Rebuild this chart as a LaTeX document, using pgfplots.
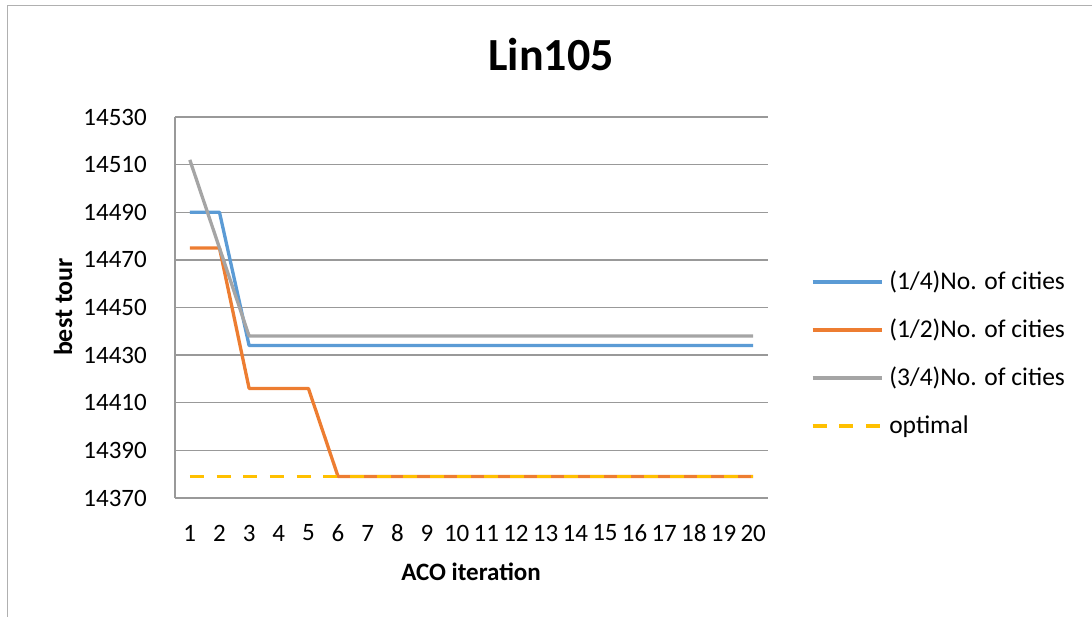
\documentclass[border=0pt]{standalone}
\usepackage{pgfplots}
\pgfplotsset{compat=1.18}
\usepackage{fontspec}
\setmainfont{Carlito}
\definecolor{cblue}{HTML}{5B9BD5}
\definecolor{corange}{HTML}{ED7D31}
\definecolor{cgray}{HTML}{A5A5A5}
\definecolor{cyellow}{HTML}{FFC000}
\definecolor{cgrid}{HTML}{999999}
\definecolor{cborder}{HTML}{B0B0B0}
\begin{document}
\begin{tikzpicture}[x=1pt,y=1pt]
\path[use as bounding box] (0,0) rectangle (1092,617);
\draw[color=cborder, line width=1.5pt] (7.5,0) -- (7.5,611.5) -- (1092,611.5);
\begin{axis}[
  at={(175pt,119pt)}, anchor=south west, scale only axis,
  width=593pt, height=381pt,
  xmin=0.5, xmax=20.5, ymin=14370, ymax=14530,
  xtick={1,...,20}, ytick={14370,14390,...,14530},
  scaled y ticks=false,
  axis x line*=bottom, axis y line*=left,
  axis line style={cgrid, line width=1.4pt, -},
  ymajorgrids, grid style={cgrid, line width=1.4pt},
  major tick length=0pt,
  /pgf/number format/assume math mode=true,
  tick label style={font=\fontsize{25}{30}\selectfont, inner sep=0pt},
  yticklabel style={/pgf/number format/1000 sep={}, anchor=east, xshift=-28pt},
  xticklabel style={anchor=center, yshift=-35pt},
  legend style={at={(1.0725,0.378)}, anchor=west, draw=none, fill=none,
    inner sep=0pt, outer sep=0pt, font=\fontsize{25.5}{30}\selectfont,
    row sep=24pt, column sep=6pt,
    nodes={inner sep=0pt, text height=20pt, text depth=4pt}},
  legend cell align=left,
  legend image code/.code={\draw[#1, line cap=butt] (0pt,0pt) -- (69pt,0pt);},
]
\addplot[cblue, line width=3.3pt, line join=round] coordinates {
 (1,14490) (2,14490) (3,14434) (4,14434) (5,14434) (6,14434) (7,14434) (8,14434) (9,14434) (10,14434)
 (11,14434) (12,14434) (13,14434) (14,14434) (15,14434) (16,14434) (17,14434) (18,14434) (19,14434) (20,14434)};
\addlegendentry{(1/4)No. of cities}
\addplot[corange, line width=3.3pt, line join=round] coordinates {
 (1,14475) (2,14475) (3,14416) (4,14416) (5,14416) (6,14379) (7,14379) (8,14379) (9,14379) (10,14379)
 (11,14379) (12,14379) (13,14379) (14,14379) (15,14379) (16,14379) (17,14379) (18,14379) (19,14379) (20,14379)};
\addlegendentry{(1/2)No. of cities}
\addplot[cgray, line width=3.3pt, line join=round] coordinates {
 (1,14512) (2,14475) (3,14438) (4,14438) (5,14438) (6,14438) (7,14438) (8,14438) (9,14438) (10,14438)
 (11,14438) (12,14438) (13,14438) (14,14438) (15,14438) (16,14438) (17,14438) (18,14438) (19,14438) (20,14438)};
\addlegendentry{(3/4)No. of cities}
\addplot[cyellow, line width=3.3pt, dash pattern=on 14pt off 12.7pt] coordinates {
 (1,14379) (2,14379) (3,14379) (4,14379) (5,14379) (6,14379) (7,14379) (8,14379) (9,14379) (10,14379)
 (11,14379) (12,14379) (13,14379) (14,14379) (15,14379) (16,14379) (17,14379) (18,14379) (19,14379) (20,14379)};
\addlegendentry{optimal}
\end{axis}
\node[anchor=base, font=\fontsize{46}{52}\selectfont\bfseries] at (551,546) {Lin105};
\node[anchor=base, font=\fontsize{25}{30}\selectfont\bfseries] at (471,36) {ACO iteration};
\node[rotate=90, anchor=base, font=\fontsize{26}{30}\selectfont\bfseries] at (72,310) {best tour};
\end{tikzpicture}
\end{document}
